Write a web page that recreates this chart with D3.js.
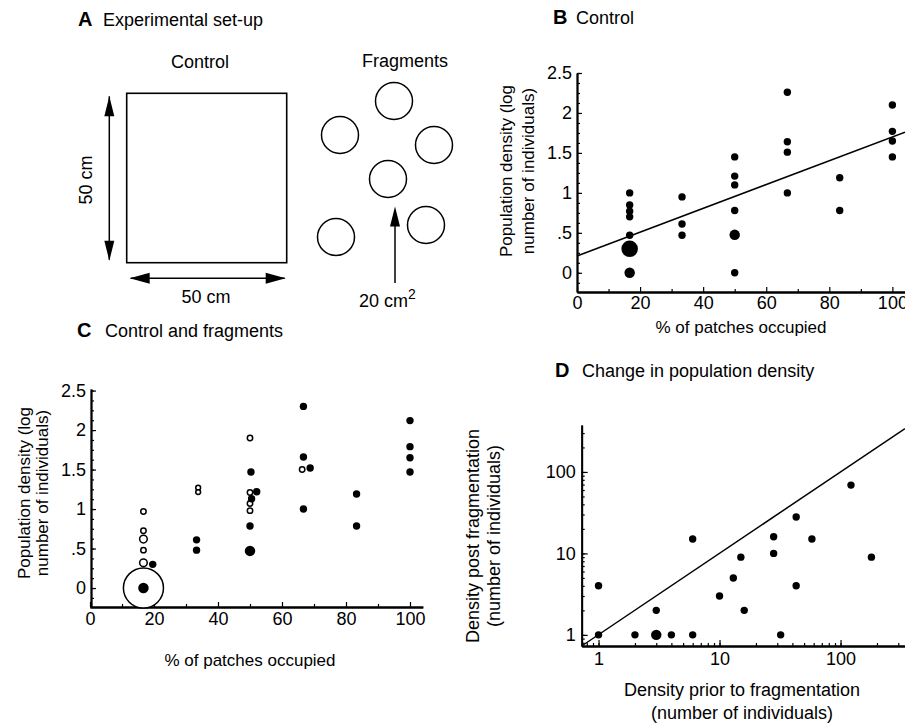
<!DOCTYPE html>
<html><head><meta charset="utf-8">
<script src="https://cdn.jsdelivr.net/npm/d3@7"></script>
<style>
body{margin:0;background:#fff}
svg text{font-family:"Liberation Sans",Arial,Helvetica,sans-serif;fill:#000}
</style></head><body>
<svg id="c" width="905" height="724"></svg>
<script>
// ---------- DATA ----------
// Panel A: set-up (cm)
const controlSide = 50;
const fragmentNames = ["top","left","right","centre","bottomLeft","bottomRight"];
const fragX = [47, 20, 67, 44, 18, 63];   // layout coordinates of fragments (schematic units)
const fragY = [88, 71, 66, 49, 20, 26];

// Panel B: control
const bX = [16.7,16.7,16.7,16.7,16.7,16.7,16.7, 33.3,33.3,33.3, 50,50,50,50,50,50, 66.7,66.7,66.7,66.7, 83.3,83.3, 100,100,100,100];
const bY = [1.00,0.85,0.77,0.70,0.47,0.30,0.00, 0.95,0.61,0.47, 1.45,1.21,1.10,0.78,0.475,0.00, 2.26,1.64,1.51,1.00, 1.19,0.78, 2.10,1.77,1.65,1.45];
const bN = [1,1,1,1,1,5,2, 1,1,1, 1,1,1,1,2,1, 1,1,1,1, 1,1, 1,1,1,1];
const bFit = {intercept: 0.21, slope: 0.0149};

// Panel C: control (filled) and fragments (open)
const cCtrlX = [16.7,19.6, 33.3,33.3, 50.3,52.1,50.5,50,50, 66.7,66.7,68.8,66.7, 83.3,83.3, 100,100,100,100];
const cCtrlY = [0.00,0.30, 0.61,0.48, 1.47,1.22,1.13,0.785,0.47, 2.30,1.66,1.52,1.00, 1.19,0.785, 2.12,1.79,1.65,1.47];
const cCtrlN = [2,1, 1,1, 1,1,1,1,2, 1,1,1,1, 1,1, 1,1,1,1];
const cFragX = [16.7, 16.7,16.7,16.7,16.7,16.7, 33.8,33.8, 50,50,50,50, 66.3];
const cFragY = [0.00, 0.97,0.725,0.62,0.48,0.32, 1.27,1.215, 1.90,1.21,1.07,0.98, 1.50];
const cFragN = [55, 1,1,2,1,2, 0.8,0.8, 1,1,1,1, 1];

// Panel D: density prior vs post fragmentation
const dPrior = [1,1,2,3,3,4,6,6,10,13,15,16,28,28,32,43,43,58,122,180];
const dPost  = [4,1,1,1,2,1,1,15,3,5,9,2,16,10,1,28,4,15,69,9];
const dN     = [1,1,1,2,1,1,1,1,1,1,1,1,1,1,1,1,1,1,1,1];

// Tick labels
const pctTicks = [0,20,40,60,80,100];
const logTicks = [0,0.5,1,1.5,2,2.5];
const logTickLabels = ["0",".5","1","1.5","2","2.5"];
const countTicks = [1,10,100];

// ---------- DRAW ----------
const FONT = "'Liberation Sans', Arial, Helvetica, sans-serif";
const svg = d3.select("#c");

function styleAxis(g, fs){
  g.selectAll("text").attr("font-size", fs).attr("font-family", FONT).attr("fill","#000");
  g.select(".domain").attr("stroke","#000").attr("stroke-width",1.8);
  g.selectAll(".tick line").attr("stroke","#000").attr("stroke-width",1.2);
  return g;
}
function title(letter, txt, x, tx, y){
  svg.append("text").attr("x",x).attr("y",y).attr("font-size",20).attr("font-weight","bold").text(letter);
  svg.append("text").attr("x",tx).attr("y",y).attr("font-size",18).text(txt);
}
function rotLabel(lines, xs, cy, fs){
  lines.forEach((t,i)=>{
    svg.append("text").attr("transform",`translate(${xs[i]},${cy}) rotate(-90)`)
      .attr("text-anchor","middle").attr("font-size",fs).text(t);
  });
}

// ---- Panel A ----
title("A","Experimental set-up",78,103,26);
svg.append("text").attr("x",200).attr("y",68).attr("text-anchor","middle").attr("font-size",18).text("Control");
svg.append("text").attr("x",405).attr("y",67).attr("text-anchor","middle").attr("font-size",18).text("Fragments");
const ax = d3.scaleLinear().domain([0,controlSide]).range([126.7,286.7]);
const ay = d3.scaleLinear().domain([0,controlSide]).range([262.7,93.3]);
svg.append("rect").attr("x",ax(0)).attr("y",ay(controlSide)).attr("width",ax(controlSide)-ax(0)).attr("height",ay(0)-ay(controlSide))
  .attr("fill","none").attr("stroke","#000").attr("stroke-width",1.6);
function arrowHead(x,y,dir,len,w){ // dir: 'up','down','left','right' tip at x,y
  let p;
  if(dir==="up") p=[[x,y],[x-w/2,y+len],[x+w/2,y+len]];
  if(dir==="down") p=[[x,y],[x-w/2,y-len],[x+w/2,y-len]];
  if(dir==="left") p=[[x,y],[x+len,y-w/2],[x+len,y+w/2]];
  if(dir==="right") p=[[x,y],[x-len,y-w/2],[x-len,y+w/2]];
  svg.append("path").attr("d","M"+p.map(d=>d.join(",")).join("L")+"Z").attr("fill","#000");
}
// vertical dimension arrow
svg.append("line").attr("x1",109.3).attr("x2",109.3).attr("y1",ay(controlSide)+3).attr("y2",ay(0)-3).attr("stroke","#000").attr("stroke-width",1.5);
arrowHead(109.3, ay(controlSide)+3,"up",20,10);
arrowHead(109.3, ay(0)-2,"down",20,10);
// horizontal dimension arrow
svg.append("line").attr("x1",ax(0)+4).attr("x2",ax(controlSide)-2).attr("y1",278.3).attr("y2",278.3).attr("stroke","#000").attr("stroke-width",1.5);
arrowHead(ax(0)+3,278.3,"left",20,11);
arrowHead(ax(controlSide)-1,278.3,"right",20,11);
svg.append("text").attr("transform","translate(91.5,180) rotate(-90)").attr("text-anchor","middle").attr("font-size",18).text("50 cm");
svg.append("text").attr("x",206).attr("y",303).attr("text-anchor","middle").attr("font-size",18).text("50 cm");
// fragments
const fx = d3.scaleLinear().domain([0,100]).range([300,500]);
const fy = d3.scaleLinear().domain([0,100]).range([277,77]);
svg.append("g").selectAll("circle").data(fragmentNames).join("circle")
  .attr("cx",(d,i)=>fx(fragX[i])).attr("cy",(d,i)=>fy(fragY[i])).attr("r",18.5)
  .attr("fill","none").attr("stroke","#000").attr("stroke-width",1.5);
svg.append("line").attr("x1",395).attr("x2",395).attr("y1",212).attr("y2",283).attr("stroke","#000").attr("stroke-width",1.5);
arrowHead(395,206.5,"up",20,10);
const t20 = svg.append("text").attr("x",359).attr("y",307).attr("font-size",18);
t20.append("tspan").text("20 cm");
t20.append("tspan").attr("dy",-8).attr("font-size",14).text("2");

// ---- Panel B ----
title("B","Control",553,576,24);
const xB = d3.scaleLinear().domain([0,104]).range([577,905]);
const yB = d3.scaleLinear().domain([-0.24,2.5]).range([292,73]);
const rB = n => 3.7*Math.sqrt(n);
styleAxis(svg.append("g").attr("transform","translate(0,292)")
  .call(d3.axisBottom(xB).tickValues(d3.range(10,101,20)).tickSize(-3).tickSizeOuter(0).tickFormat("")),18);
styleAxis(svg.append("g").attr("transform","translate(0,292)")
  .call(d3.axisBottom(xB).tickValues(pctTicks).tickSize(-5).tickSizeOuter(0).tickPadding(4)),18);
styleAxis(svg.append("g").attr("transform","translate(577,0)")
  .call(d3.axisLeft(yB).tickValues(d3.range(-0.125,2.51,0.125)).tickSize(-3).tickSizeOuter(0).tickFormat("")),18);
styleAxis(svg.append("g").attr("transform","translate(577,0)")
  .call(d3.axisLeft(yB).tickValues(logTicks).tickSize(-5).tickSizeOuter(0).tickPadding(5).tickFormat((d,i)=>logTickLabels[i])),18);
svg.append("line").attr("x1",xB(0)).attr("y1",yB(bFit.intercept)).attr("x2",xB(104)).attr("y2",yB(bFit.intercept+bFit.slope*104))
  .attr("stroke","#000").attr("stroke-width",1.5);
svg.append("g").selectAll("circle").data(bX).join("circle")
  .attr("cx",(d,i)=>xB(bX[i])).attr("cy",(d,i)=>yB(bY[i])).attr("r",(d,i)=>rB(bN[i])).attr("fill","#000");
rotLabel(["Population density (log","number of individuals)"],[512,534],171,17);
svg.append("text").attr("x",741).attr("y",333).attr("text-anchor","middle").attr("font-size",17).text("% of patches occupied");

// ---- Panel C ----
title("C","Control and fragments",77,105,337);
const xC = d3.scaleLinear().domain([0,104]).range([90,422.8]);
const yC = d3.scaleLinear().domain([-0.24,2.52]).range([607,389]);
styleAxis(svg.append("g").attr("transform","translate(0,607)")
  .call(d3.axisBottom(xC).tickValues(d3.range(10,101,20)).tickSize(-3).tickSizeOuter(0).tickFormat("")),18);
styleAxis(svg.append("g").attr("transform","translate(0,607)")
  .call(d3.axisBottom(xC).tickValues(pctTicks).tickSize(-5).tickSizeOuter(0).tickPadding(5)),18);
styleAxis(svg.append("g").attr("transform","translate(91,0)")
  .call(d3.axisLeft(yC).tickValues(d3.range(-0.125,2.51,0.125)).tickSize(-3).tickSizeOuter(0).tickFormat("")),18);
styleAxis(svg.append("g").attr("transform","translate(91,0)")
  .call(d3.axisLeft(yC).tickValues(logTicks).tickSize(-5).tickSizeOuter(0).tickPadding(5).tickFormat((d,i)=>logTickLabels[i])),18);
svg.append("g").selectAll("circle").data(cFragX).join("circle")
  .attr("cx",(d,i)=>xC(cFragX[i])).attr("cy",(d,i)=>yC(cFragY[i])).attr("r",(d,i)=>2.7*Math.sqrt(cFragN[i]))
  .attr("fill","#fff").attr("stroke","#000").attr("stroke-width",1.5);
svg.append("g").selectAll("circle").data(cCtrlX).join("circle")
  .attr("cx",(d,i)=>xC(cCtrlX[i])).attr("cy",(d,i)=>yC(cCtrlY[i])).attr("r",(d,i)=>3.7*Math.sqrt(cCtrlN[i])).attr("fill","#000");
rotLabel(["Population density (log","number of individuals)"],[30,48],493,17);
svg.append("text").attr("x",250).attr("y",666).attr("text-anchor","middle").attr("font-size",17).text("% of patches occupied");

// ---- Panel D ----
title("D","Change in population density",555,582,377);
const xD = d3.scaleLog().domain([0.726,341]).range([581.7,905]);
const yD = d3.scaleLog().domain([0.73,377]).range([646,425]);
const minor = dom => { const v=[]; for(let p=-1;p<=3;p++) for(let m=1;m<10;m++){const t=m*Math.pow(10,p); if(t>=dom[0]&&t<=dom[1]) v.push(t);} return v; };
styleAxis(svg.append("g").attr("transform","translate(0,646)")
  .call(d3.axisBottom(xD).tickValues(minor(xD.domain())).tickSize(-3).tickSizeOuter(0).tickFormat("")),18);
styleAxis(svg.append("g").attr("transform","translate(0,646)")
  .call(d3.axisBottom(xD).tickValues(countTicks).tickSize(-6).tickSizeOuter(0).tickPadding(6).tickFormat(d3.format("d"))),18);
styleAxis(svg.append("g").attr("transform","translate(581.7,0)")
  .call(d3.axisLeft(yD).tickValues(minor(yD.domain())).tickSize(-3).tickSizeOuter(0).tickFormat("")),18);
styleAxis(svg.append("g").attr("transform","translate(581.7,0)")
  .call(d3.axisLeft(yD).tickValues(countTicks).tickSize(-6).tickSizeOuter(0).tickPadding(6).tickFormat(d3.format("d"))),18);
svg.append("line").attr("x1",xD(0.726)).attr("y1",yD(0.73)).attr("x2",xD(341)).attr("y2",yD(341))
  .attr("stroke","#000").attr("stroke-width",1.5);
svg.append("g").selectAll("circle").data(dPrior).join("circle")
  .attr("cx",(d,i)=>xD(dPrior[i])).attr("cy",(d,i)=>yD(dPost[i])).attr("r",(d,i)=>3.7*Math.sqrt(dN[i])).attr("fill","#000");
rotLabel(["Density post fragmentation","(number of individuals)"],[479,500],536,18);
svg.append("text").attr("x",742).attr("y",696).attr("text-anchor","middle").attr("font-size",18).text("Density prior to fragmentation");
svg.append("text").attr("x",742).attr("y",719).attr("text-anchor","middle").attr("font-size",18).text("(number of individuals)");
</script>
</body></html>
